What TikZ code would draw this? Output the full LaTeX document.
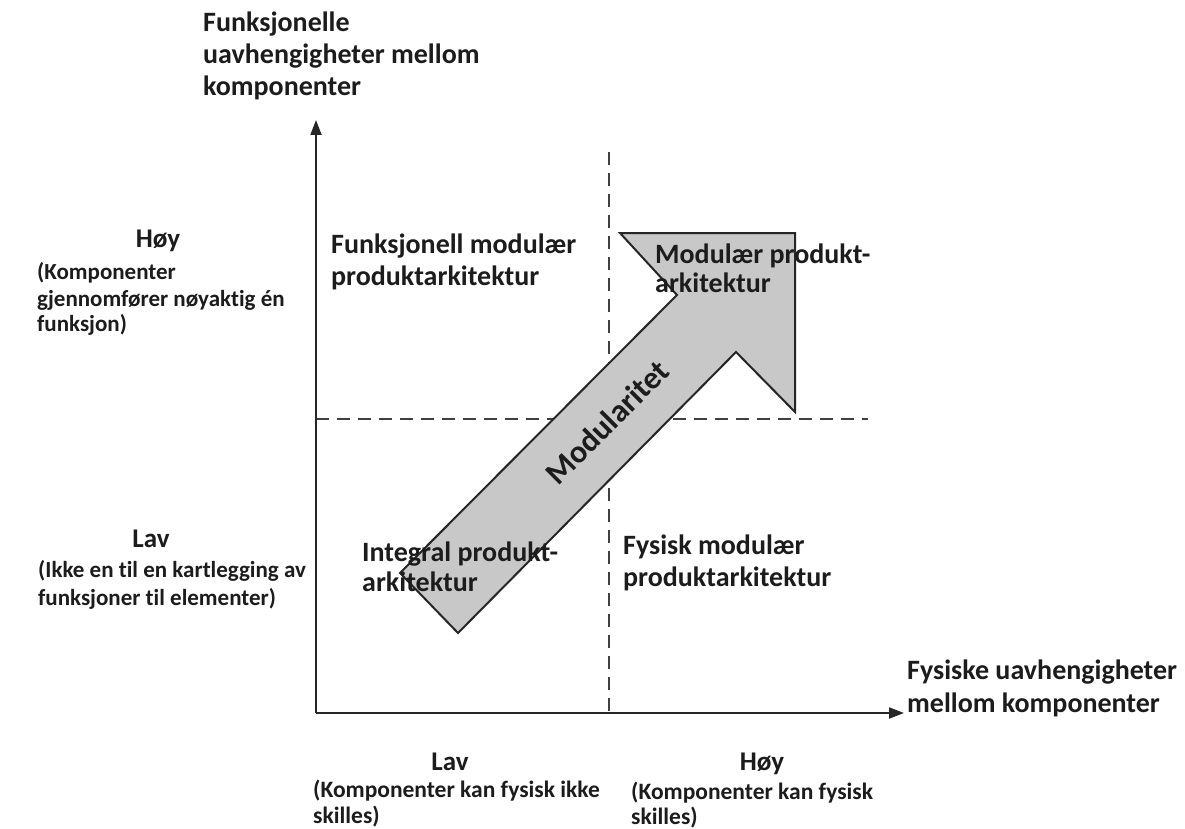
\documentclass[tikz,border=0pt]{standalone}
\usepackage{fontspec}
\setmainfont{Carlito}[Ligatures=NoCommon]
\usetikzlibrary{arrows.meta}
\definecolor{txt}{RGB}{28,28,28}
\definecolor{arrowfill}{RGB}{200,200,200}
\tikzset{
  big/.style={inner sep=0pt, anchor=base west, text=txt,
    font=\bfseries\fontsize{28}{33}\selectfont},
  small/.style={inner sep=0pt, anchor=base west, text=txt,
    font=\bfseries\fontsize{23}{27}\selectfont},
  smallb/.style={small, font=\bfseries\fontsize{23.5}{27}\selectfont},
  level/.style={inner sep=0pt, anchor=base, text=txt,
    font=\bfseries\fontsize{27}{31}\selectfont},
  axis/.style={line width=2pt, draw=black!85,
    -{Triangle[length=15pt,width=11pt]}},
  divider/.style={line width=1.6pt, draw=black!75, dash pattern=on 13pt off 8pt},
  bigarrow/.style={fill=arrowfill, draw=black!85, line width=2pt, line join=miter}
}
\begin{document}
\begin{tikzpicture}[x=1pt,y=-1pt]
\useasboundingbox (0,0) rectangle (1185,829);
\fill[white] (0,0) rectangle (1185,829);

% axes and quadrant dividers
\coordinate (O) at (316,713);
\coordinate (Ytip) at (316,120);
\coordinate (Xtip) at (904,713);
\coordinate (Vtop) at (609,152);
\coordinate (Vbot) at (609,713);
\coordinate (Hl) at (316,419);
\coordinate (Hr) at (868,419);
\draw[divider] (Vtop) -- (Vbot);
\draw[divider] (Hl) -- (Hr);
\draw[axis] (O) -- (Ytip);
\draw[axis] (O) -- (Xtip);

% diagonal block arrow
\draw[bigarrow] (400,573) -- (677,295) -- (620,233) -- (795,233)
  -- (795,412) -- (736,352) -- (458,633) -- cycle;
\node[inner sep=0pt, text=txt, rotate=45,
  font=\bfseries\fontsize{32}{36}\selectfont] (mod) at (607,422) {Modularitet};

% vertical axis title
\node[big] (yt1) at (203,32) {Funksjonelle};
\node[big] (yt2) at (203,64) {uavhengigheter mellom};
\node[big] (yt3) at (203,96) {komponenter};

% horizontal axis title
\node[big] (xt1) at (907,679) {Fysiske uavhengigheter};
\node[big] (xt2) at (907,712) {mellom komponenter};

% quadrant labels
\node[big] (q1a) at (331,253) {Funksjonell modulær};
\node[big] (q1b) at (331,285) {produktarkitektur};
\node[big] (q2a) at (655,263) {Modulær produkt-};
\node[big] (q2b) at (655,292) {arkitektur};
\node[big] (q3a) at (362,561) {Integral produkt-};
\node[big] (q3b) at (362,591) {arkitektur};
\node[big] (q4a) at (623,554) {Fysisk modulær};
\node[big] (q4b) at (623,586) {produktarkitektur};

% vertical axis levels
\node[level] (yh) at (158,247) {Høy};
\node[small] (yh1) at (37,279) {(Komponenter};
\node[small] (yh2) at (37,306) {gjennomfører nøyaktig én};
\node[small] (yh3) at (37,331) {funksjon)};
\node[level] (yl) at (151,547) {Lav};
\node[small] (yl1) at (38,577) {(Ikke en til en kartlegging av};
\node[small] (yl2) at (38,605) {funksjoner til elementer)};

% horizontal axis levels
\node[level] (xl) at (450,770) {Lav};
\node[smallb] (xl1) at (313,797) {(Komponenter kan fysisk ikke};
\node[smallb] (xl2) at (313,823) {skilles)};
\node[level] (xh) at (762,770) {Høy};
\node[smallb] (xh1) at (631,799) {(Komponenter kan fysisk};
\node[smallb] (xh2) at (631,824) {skilles)};
\end{tikzpicture}
\end{document}
